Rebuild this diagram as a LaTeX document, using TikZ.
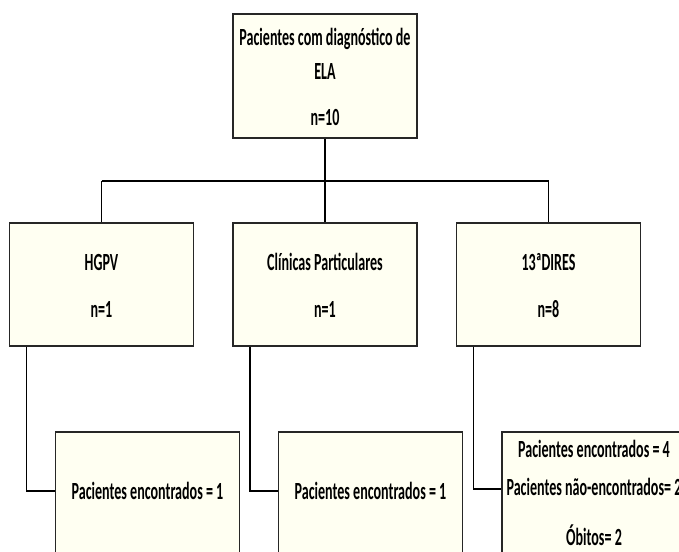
\documentclass[tikz,border=0pt]{standalone}
\usepackage{fontspec}
\setmainfont{Carlito}[FakeStretch=0.57]
\usetikzlibrary{calc}
\definecolor{boxfill}{RGB}{255,255,242}
\tikzset{
  box/.style={draw=black!85, line width=1.3pt, fill=boxfill, inner sep=0pt},
  midbox/.style={box, minimum width=138pt, minimum height=92.25pt},
  lowbox/.style={box, minimum width=138pt, minimum height=127.5pt},
  lbl/.style={anchor=base, inner sep=0pt, font=\fontsize{18.5}{22}\selectfont\bfseries},
  conn/.style={draw=black, line width=1pt}
}
\begin{document}
\begin{tikzpicture}[x=0.75pt, y=-0.75pt]
\useasboundingbox (0,0) rectangle (679,551);
\fill[white] (0,0) rectangle (679,551);
\clip (0,0) rectangle (679,551);
% boxes
\node[box, minimum width=138pt, minimum height=93pt] (top) at (325,76) {};
\node[midbox] (hgpv) at (101.5,284.5) {};
\node[midbox] (clin) at (325,284.5) {};
\node[midbox] (dires) at (548.5,284.5) {};
\node[lowbox] (b1) at (147.5,517) {};
\node[lowbox] (b2) at (370.5,517) {};
\node[lowbox] (b3) at (594,517) {};
% texts
\node[lbl] (t1) at (325,45) {Pacientes com diagnóstico de};
\node[lbl] (t2) at (325,79) {ELA};
\node[lbl] (t3) at (325,125) {n=10};
\node[lbl] (h1) at (101.5,270) {HGPV};
\node[lbl] (h2) at (101.5,317) {n=1};
\node[lbl] (c1) at (325,270) {Clínicas Particulares};
\node[lbl] (c2) at (325,317) {n=1};
\node[lbl] (d1) at (548.5,270) {13ªDIRES};
\node[lbl] (d2) at (548.5,317) {n=8};
\node[lbl] (e1) at (147.5,499) {Pacientes encontrados = 1};
\node[lbl] (e2) at (370.5,499) {Pacientes encontrados = 1};
\node[lbl] (f1) at (594,457) {Pacientes encontrados = 4};
\node[lbl] (f2) at (594,495) {Pacientes não-encontrados= 2};
\node[lbl] (f3) at (594,545) {Óbitos= 2};
% connectors
\coordinate (bus) at (0,181);
\draw[conn] (top.south) -- (top.south |- bus);
\draw[conn] (hgpv.north |- bus) -- (dires.north |- bus);
\draw[conn] (hgpv.north |- bus) -- (hgpv.north);
\draw[conn] (clin.north |- bus) -- (clin.north);
\draw[conn] (dires.north |- bus) -- (dires.north);
\draw[conn] ($(hgpv.south west)+(18,0)$) |- ($(b1.north west)+(0,60)$);
\draw[conn] ($(clin.south west)+(18,0)$) |- ($(b2.north west)+(0,60)$);
\draw[conn] ($(dires.south west)+(18,0)$) |- ($(b3.north west)+(0,58)$);
\end{tikzpicture}
\end{document}
